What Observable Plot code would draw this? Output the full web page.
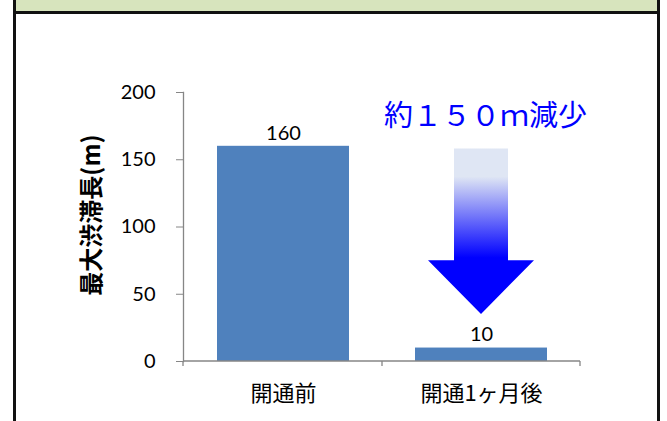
<!DOCTYPE html>
<html><head><meta charset="utf-8">
<script src="https://cdn.jsdelivr.net/npm/d3@7"></script>
<script src="https://cdn.jsdelivr.net/npm/@observablehq/plot@0.6"></script>
<style>
html,body{margin:0;padding:0;background:#fff;}
#wrap{position:relative;width:667px;height:421px;overflow:hidden;background:#fff;}
#chart{position:absolute;left:0;top:0;}
.frame{position:absolute;background:#111;}
#titlebar{position:absolute;left:16px;top:0;width:641px;height:11px;background:#d7e4bd;}
</style></head><body>
<div id="wrap">
  <div id="chart"></div>
  <div id="titlebar"></div>
  <div class="frame" style="left:13px;top:0;width:3px;height:421px"></div>
  <div class="frame" style="left:657px;top:0;width:3px;height:421px"></div>
  <div class="frame" style="left:13px;top:11px;width:647px;height:3px"></div>
</div>
<script>
// ---- data ----
const categories = ["開通前", "開通1ヶ月後"];
const values = [160, 10];
const yTicks = [0, 50, 100, 150, 200];
const yLabel = "最大渋滞長(m)";
const noteText = ["約１５０ｍ減少"];
const noteValue = [182];            // vertical level of the note (data units)
const arrowLevels = [158, 75, 35];  // arrow top, head start, tip (data units)

const bars = categories.map((c, i) => ({cat: c, value: values[i]}));
const note = noteText.map((t, i) => ({cat: categories[1], y: noteValue[i], text: t}));

const axisGray = "#868686";
const cjk = "'Noto Sans CJK JP', sans-serif";
const latin = "Lato, 'Open Sans', sans-serif";

// band-edge ticks + x baseline
const xAxisLine = (index, scales, values, dims) => {
  const x = scales.x;
  const left = dims.marginLeft, right = dims.width - dims.marginRight;
  const y0 = scales.y(0);
  const bw = x.bandwidth ? x.bandwidth() : 0;
  const mid = (x(categories[0]) + bw + x(categories[1])) / 2;
  const g = d3.create("svg:g").attr("stroke", axisGray).attr("stroke-width", 1.3);
  g.append("line").attr("x1", left).attr("x2", right).attr("y1", y0).attr("y2", y0);
  for (const px of [left, mid, right]) {
    g.append("line").attr("x1", px).attr("x2", px).attr("y1", y0).attr("y2", y0 + 5);
  }
  return g.node();
};

// gradient down arrow
const arrowMark = (index, scales) => {
  const x = scales.x, y = scales.y;
  const bw = x.bandwidth ? x.bandwidth() : 0;
  const cx = x(categories[1]) + bw / 2;
  const yTop = y(arrowLevels[0]), yNeck = y(arrowLevels[1]), yTip = y(arrowLevels[2]);
  const sw = 27, hw = 53;
  const g = d3.create("svg:g");
  const grad = g.append("defs").append("linearGradient")
    .attr("id", "arrowGrad").attr("gradientUnits", "userSpaceOnUse")
    .attr("x1", 0).attr("x2", 0).attr("y1", yTop).attr("y2", yTip);
  [[0, "#dfe6f4"], [0.17, "#dfe6f4"], [0.66, "#0000ff"], [1, "#0000ff"]].forEach(([o, c]) =>
    grad.append("stop").attr("offset", o).attr("stop-color", c));
  g.append("path")
    .attr("d", `M${cx - sw},${yTop}H${cx + sw}V${yNeck}H${cx + hw}L${cx},${yTip}L${cx - hw},${yNeck}H${cx - sw}Z`)
    .attr("fill", "url(#arrowGrad)");
  return g.node();
};

const chart = Plot.plot({
  width: 667,
  height: 421,
  marginLeft: 183,
  marginRight: 87,
  marginTop: 92,
  marginBottom: 60,
  style: {fontFamily: latin, color: "#000", background: "transparent", overflow: "visible"},
  x: {domain: categories, paddingInner: 1/3, paddingOuter: 1/6, label: null},
  y: {domain: [0, 200], label: null},
  marks: [
    Plot.barY(bars, {x: "cat", y: "value", fill: "#4f81bd"}),
    xAxisLine,
    Plot.frame({anchor: "left", stroke: axisGray, strokeWidth: 1.3}),
    Plot.axisY({ticks: yTicks, tickSize: 7, tickPadding: 21, stroke: axisGray, fill: "#000",
      fontSize: 20, fontFamily: latin, label: null}),
    Plot.axisX({tickSize: 0, tickPadding: 24, fill: "#000", fontSize: 22, fontFamily: cjk, label: null}),
    Plot.text(bars, {x: "cat", y: "value", text: d => String(d.value), dy: -13,
      lineAnchor: "middle", fontSize: 20, fontFamily: latin, fill: "#000"}),
    Plot.text([yLabel], {frameAnchor: "left", textAnchor: "middle", lineAnchor: "middle",
      rotate: -90, dx: -91, dy: -12,
      fontSize: 24, fontWeight: "bold", fontFamily: cjk, fill: "#000"}),
    arrowMark,
    Plot.text(note, {x: "cat", y: "y", text: "text", dx: 4, lineAnchor: "middle",
      fontSize: 29, fontFamily: cjk, fill: "#0000ff"})
  ]
});
document.getElementById("chart").appendChild(chart);
</script>
</body></html>
